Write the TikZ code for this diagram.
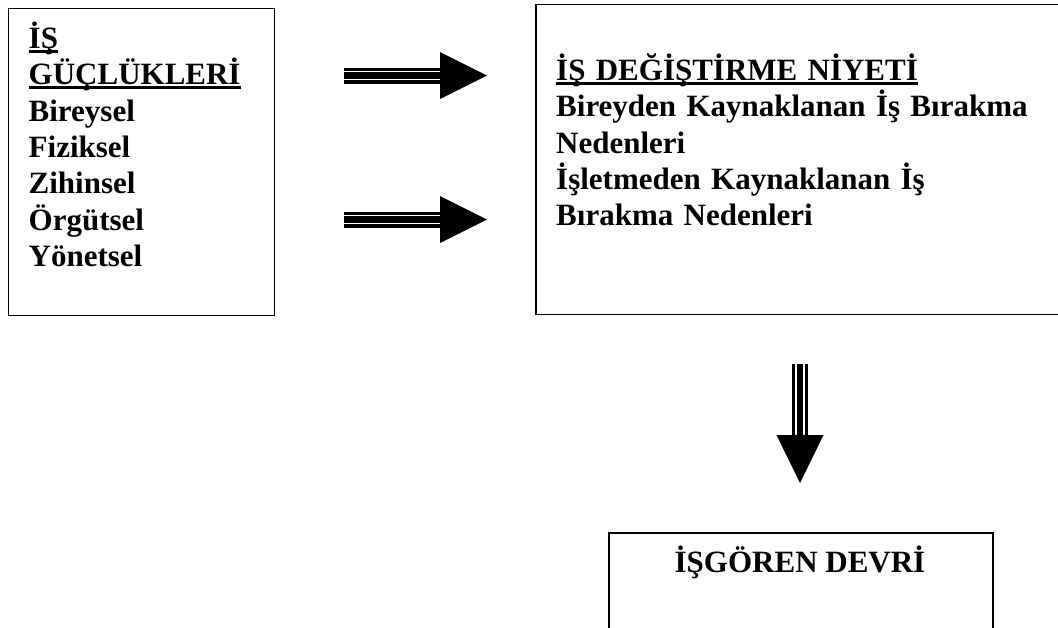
\documentclass[tikz,border=0pt]{standalone}
\usepackage{fontspec}
\setmainfont{Liberation Serif}

% thick underline as in the heading lines
\newsavebox{\ulsave}
\newcommand{\ulbf}[1]{\sbox{\ulsave}{#1}\smash{\rlap{\rule[-4pt]{\wd\ulsave}{2.5pt}}}\usebox{\ulsave}}

\begin{document}
\begin{tikzpicture}[x=1pt, y=-1pt]

% Set the overall size of the picture
\useasboundingbox (0,0) rectangle (1058,627);
\clip (0,0) rectangle (1058,627);

% Define styles for boxes and texts
\tikzstyle{box} = [draw=black, line width=1.5pt, inner sep=0pt, anchor=north west]
\tikzstyle{txt} = [font=\fontsize{31}{36.3}\selectfont\bfseries, align=left, inner sep=0pt]

% Define styles for the striped arrows
\tikzstyle{shaft} = [line width=16pt]
\tikzstyle{stripes} = [draw=white, line width=1.8pt, double=black, double distance=6.2pt]
\tikzstyle{head} = [fill=black]

% Boxes
\node[box, minimum width=266, minimum height=307] (guc) at (7.5,7.5) {};
\node[box, minimum width=540, minimum height=310] (niyet) at (535,3.5) {};
\node[box, minimum width=384, minimum height=100] (devir) at (608,532) {};

% Texts
\node[txt, text width=250, anchor=base west] (gucTxt) at (28.5,48.5)
    {\ulbf{İŞ}\\ \ulbf{GÜÇLÜKLERİ}\\ Bireysel\\ Fiziksel\\ Zihinsel\\ Örgütsel\\ Yönetsel};
\node[txt, text width=490, anchor=base west] (niyetTxt) at (556,80.5)
    {\ulbf{İŞ DEĞİŞTİRME NİYETİ}\\ Bireyden Kaynaklanan İş Bırakma\\ Nedenleri\\
     İşletmeden Kaynaklanan İş\\ Bırakma Nedenleri};
\node[txt, anchor=base] (devirTxt) at (800,572) {İŞGÖREN DEVRİ};

% Arrow ends
\coordinate (a1s) at (344,75.5);
\coordinate (a1h) at (440,75.5);
\coordinate (a1e) at (487,75.5);
\coordinate (a2s) at (344,219.5);
\coordinate (a2h) at (440,219.5);
\coordinate (a2e) at (487,219.5);
\coordinate (a3s) at (800,364);
\coordinate (a3h) at (800,435);
\coordinate (a3e) at (800,483);

% Upper arrow
\draw[shaft] (a1s) -- (a1h);
\draw[stripes] (a1s) -- (a1h);
\fill[head] ([yshift=23.5pt]a1h) -- (a1e) -- ([yshift=-23.5pt]a1h) -- cycle;

% Lower arrow
\draw[shaft] (a2s) -- (a2h);
\draw[stripes] (a2s) -- (a2h);
\fill[head] ([yshift=23.5pt]a2h) -- (a2e) -- ([yshift=-23.5pt]a2h) -- cycle;

% Down arrow
\draw[shaft] (a3s) -- (a3h);
\draw[stripes] (a3s) -- (a3h);
\fill[head] ([xshift=-23.5pt]a3h) -- (a3e) -- ([xshift=23.5pt]a3h) -- cycle;

\end{tikzpicture}
\end{document}
